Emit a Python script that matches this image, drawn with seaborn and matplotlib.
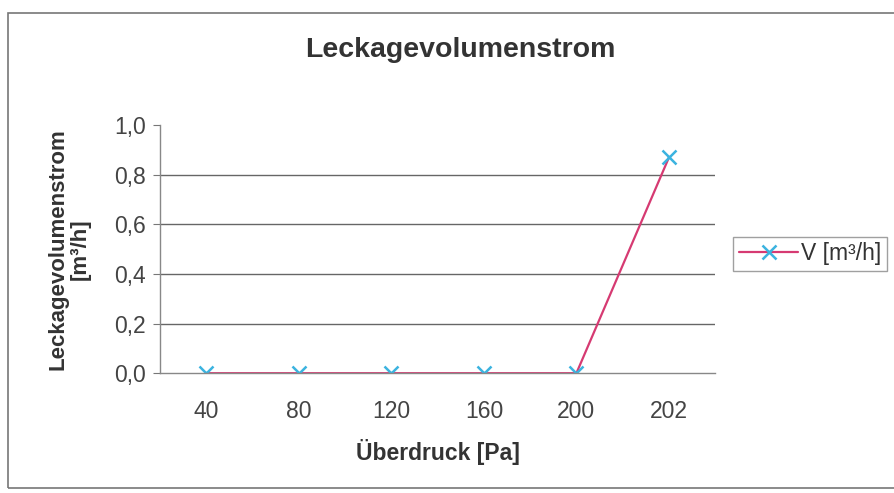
import matplotlib
matplotlib.use("Agg")
import matplotlib.pyplot as plt
import matplotlib.patches as mpatches
import seaborn as sns

# --- data ---
pressure = ["40", "80", "120", "160", "200", "202"]
flow = [0.0, 0.0, 0.0, 0.0, 0.0, 0.87]
y_ticks = [0.0, 0.2, 0.4, 0.6, 0.8, 1.0]
y_tick_labels = ["0,0", "0,2", "0,4", "0,6", "0,8", "1,0"]

sns.set_style("white")
plt.rcParams["font.family"] = ["Liberation Sans", "DejaVu Sans"]

fig = plt.figure(figsize=(8.94, 4.93), dpi=100)
ax = fig.add_axes([0.179, 0.243, 0.621, 0.503])

sns.pointplot(x=pressure, y=flow, ax=ax, color="#d63a72", markers="x",
              linestyles="-", linewidth=1.6, markersize=10, label="V [m³/h]")
# marker colour differs from the line colour
for line in ax.lines:
    line.set_markeredgecolor("#3bb3e0")
    line.set_markerfacecolor("#3bb3e0")
    line.set_markeredgewidth(1.8)

ax.set_xlim(-0.5, len(pressure) - 0.5)
ax.set_ylim(0, 1.0)
ax.set_yticks(y_ticks)
ax.set_yticklabels(y_tick_labels, fontsize=16.5, color="#444444")
ax.set_xticks(range(len(pressure)))
ax.set_xticklabels(pressure, fontsize=16.5, color="#444444")
ax.set_xticks([i - 0.5 for i in range(len(pressure) + 1)], minor=True)
ax.tick_params(axis="x", which="major", length=0, pad=19)
ax.tick_params(axis="x", which="minor", length=5, color="#777777", direction="out")
ax.tick_params(axis="y", length=5, color="#777777", direction="out", left=True, pad=5)

# horizontal gridlines (none at the top)
for yv in y_ticks[1:-1]:
    ax.axhline(yv, color="#666666", linewidth=1.0, zorder=0)

for side in ["top", "right"]:
    ax.spines[side].set_visible(False)
for side in ["left", "bottom"]:
    ax.spines[side].set_color("#888888")
    ax.spines[side].set_linewidth(1.0)

ax.set_xlabel("Überdruck [Pa]", fontsize=16.5, fontweight="bold", color="#333333", labelpad=12)
ax.set_ylabel("Leckagevolumenstrom\n[m³/h]", fontsize=16, fontweight="bold",
              color="#333333", labelpad=17, linespacing=1.05)
fig.text(0.515, 0.898, "Leckagevolumenstrom", ha="center", va="center",
         fontsize=20.5, fontweight="bold", color="#333333")

leg = ax.legend(loc="center left", bbox_to_anchor=(0.82, 0.485),
                bbox_transform=fig.transFigure, fontsize=16.5, frameon=True,
                fancybox=False, handlelength=2.6, handletextpad=0.1,
                borderpad=0.25, borderaxespad=0)
leg.get_frame().set_edgecolor("#888888")
leg.get_frame().set_linewidth(1.0)
for t in leg.get_texts():
    t.set_color("#333333")

# chart area border
fig.patches.append(mpatches.Rectangle((0.009, 0.01), 1.2, 0.963, transform=fig.transFigure,
                                      fill=False, edgecolor="#777777", linewidth=1.2))

fig.savefig("out.png", dpi=100)
